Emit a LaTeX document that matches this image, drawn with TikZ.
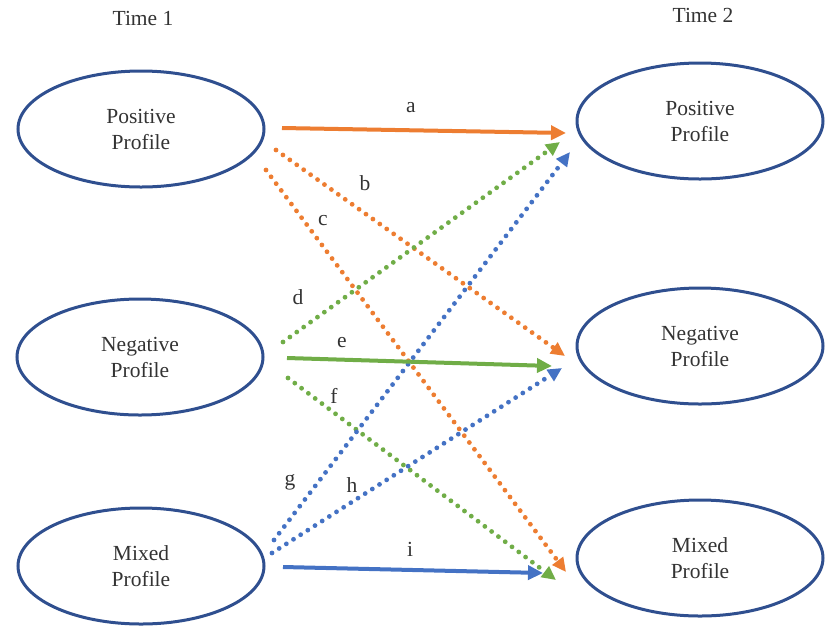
\documentclass[tikz,border=0pt]{standalone}
\usepackage{fontspec}
\setmainfont{Liberation Serif}
\usetikzlibrary{arrows.meta,shapes.geometric}
\definecolor{cor}{HTML}{ED7D31}
\definecolor{cgr}{HTML}{70AD47}
\definecolor{cbl}{HTML}{4472C4}
\definecolor{cel}{HTML}{2F4F8F}
\definecolor{ctx}{HTML}{333333}
\begin{document}
\begin{tikzpicture}[x=1pt,y=-1pt,
 prof/.style={ellipse,draw=cel,line width=3pt,minimum width=246pt,minimum height=116pt,align=center,text=ctx,font=\fontsize{21.5}{26}\selectfont,inner sep=0pt},
 lbl/.style={text=ctx,font=\fontsize{21.5}{24}\selectfont,inner sep=0pt},
 solidarr/.style={line width=4pt,-{Triangle[length=15pt,width=14pt]}},
 dotarr/.style={line width=4.8pt,line cap=round,dash pattern=on 0pt off 8.5pt,-{Triangle[length=14pt,width=13pt]}},
]
\useasboundingbox (0,0) rectangle (830,625);
\node[lbl] (t1) at (143,18) {Time 1};
\node[lbl] (t2) at (703,15) {Time 2};
\node[prof] (L1) at (141,129) {Positive\\Profile};
\node[prof] (L2) at (140,357) {Negative\\Profile};
\node[prof] (L3) at (141,566) {Mixed\\Profile};
\node[prof] (R1) at (700,121) {Positive\\Profile};
\node[prof] (R2) at (700,346) {Negative\\Profile};
\node[prof] (R3) at (700,558) {Mixed\\Profile};
% endpoints
\coordinate (a0) at (282,128); \coordinate (a1) at (566,133);
\coordinate (b0) at (276,150); \coordinate (b1) at (565,356);
\coordinate (c0) at (266,170); \coordinate (c1) at (566,572);
\coordinate (d0) at (283,342); \coordinate (d1) at (560,142);
\coordinate (e0) at (287,358); \coordinate (e1) at (552,366);
\coordinate (f0) at (288,378); \coordinate (f1) at (556,580);
\coordinate (g0) at (274,540); \coordinate (g1) at (570,152);
\coordinate (h0) at (272,553); \coordinate (h1) at (562,368);
\coordinate (i0) at (283,567); \coordinate (i1) at (543,573);
% arrows
\draw[dotarr,cor] (b0) -- (b1);
\draw[dotarr,cor] (c0) -- (c1);
\draw[dotarr,cgr] (d0) -- (d1);
\draw[dotarr,cgr] (f0) -- (f1);
\draw[dotarr,cbl] (g0) -- (g1);
\draw[dotarr,cbl] (h0) -- (h1);
\draw[solidarr,cor] (a0) -- (a1);
\draw[solidarr,cgr] (e0) -- (e1);
\draw[solidarr,cbl] (i0) -- (i1);
% labels
\node[lbl] (la) at (411,108) {a};
\node[lbl] (lb) at (365,183) {b};
\node[lbl] (lc) at (323,221) {c};
\node[lbl] (ld) at (298,297) {d};
\node[lbl] (le) at (342,343) {e};
\node[lbl] (lf) at (334,396) {f};
\node[lbl] (lg) at (290,482) {g};
\node[lbl] (lh) at (352,485) {h};
\node[lbl] (li) at (410,549) {i};
\end{tikzpicture}
\end{document}
